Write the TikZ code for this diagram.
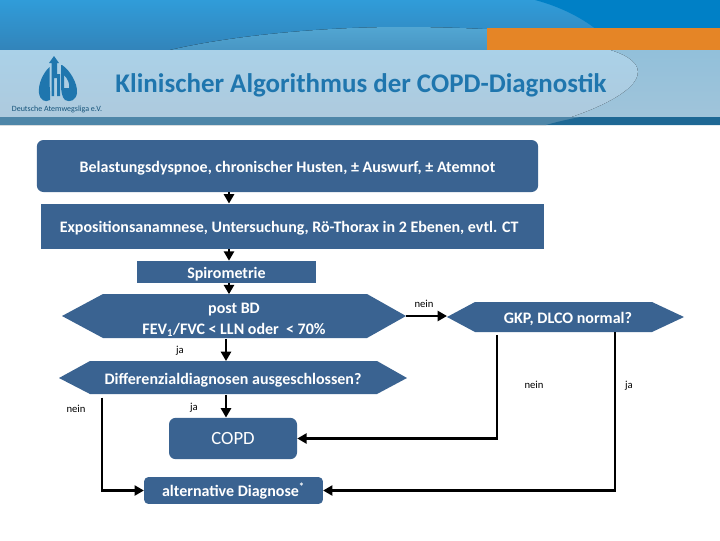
\documentclass[tikz,border=0pt]{standalone}
\usepackage{fontspec}
\setmainfont{Carlito}
\usetikzlibrary{arrows.meta,calc}
\definecolor{boxblue}{HTML}{3A6391}
\definecolor{titleblue}{HTML}{1F76AE}
\definecolor{ligaorange}{HTML}{E58526}
\definecolor{skytop}{RGB}{48,156,217}
\definecolor{skybottom}{RGB}{50,132,186}
\definecolor{swooshtop}{RGB}{82,166,210}
\definecolor{swooshbottom}{RGB}{72,150,196}
\definecolor{corner}{RGB}{0,128,198}
\definecolor{bandright}{RGB}{146,192,218}
\definecolor{bandrightlow}{RGB}{160,196,218}
\definecolor{bandleft}{RGB}{170,209,232}
\definecolor{bandleftlow}{RGB}{174,201,220}
\definecolor{stripleft}{RGB}{78,134,168}
\definecolor{stripright}{RGB}{30,104,148}
\tikzstyle{flow} = [line width=2.2pt,-{Stealth[inset=0pt,length=7pt,width=7.5pt]}]
\tikzset{
    panel/.style={fill=boxblue,text=white,inner sep=0pt,text height=9pt,text depth=0pt,font=\fontsize{12}{14}\selectfont\bfseries},
    hexlabel/.style={text=white,inner sep=0pt,font=\fontsize{12}{15.75}\selectfont\bfseries,align=center},
    hexline/.style={hexlabel,text height=9pt,text depth=0pt},
    note/.style={font=\fontsize{8}{9}\selectfont}
}
\begin{document}
\begin{tikzpicture}[x=0.75pt,y=-0.75pt]

    \useasboundingbox (0,0) rectangle (720,540);
    \fill[white] (0,0) rectangle (720,540);

    % Kopfband
    \fill[top color=skytop,bottom color=skybottom] (0,0) rectangle (720,50);
    \fill[top color=swooshtop,bottom color=swooshbottom] (170,50) .. controls (230,36) and (320,27) .. (400,27) .. controls (490,27) and (570,33) .. (620,50) -- cycle;
    \fill[corner] (535,0) .. controls (565,8) and (590,22) .. (606,38) -- (720,38) -- (720,0) -- cycle;
    \fill[ligaorange] (487,28) rectangle (720,50);
    \fill[top color=bandright,bottom color=bandrightlow] (0,50) rectangle (720,117);
    \fill[top color=bandleft,bottom color=bandleftlow] (0,50) -- (610,50) .. controls (650,62) and (650,85) .. (590,110) .. controls (575,116) and (560,121) .. (546,125) -- (0,125) -- cycle;
    \fill[stripleft] (0,117) rectangle (720,125);
    \fill[stripright] (546,125) .. controls (560,121) and (570,119) .. (580,117) -- (720,117) -- (720,125) -- cycle;

    % Logo
    \fill[titleblue] (54,56) -- (59,63) -- (57,63) -- (57,74) -- (60,74) -- (60,96) -- (57,96) -- (57,78) -- (54,78) -- (54,96) -- (51.5,96) -- (51.5,63) -- (49,63) -- cycle;
    \fill[titleblue] (49.5,67) .. controls (43,73) and (38,84) .. (39,93) .. controls (40,100) and (45,103) .. (50,100)
        .. controls (50.5,97) and (50,90) .. (49.5,84) -- cycle;
    \fill[titleblue,even odd rule] (62,65) .. controls (70,70) and (78,84) .. (77,93) .. controls (76,100) and (70,103) .. (65,100)
        .. controls (62,97) and (61,92) .. (61,84) -- (61,65) -- cycle
        (64,75) .. controls (68,79) and (70,84) .. (69,88) -- (64,88) -- cycle;
    \node[text=titleblue!70!black,font=\fontsize{6}{7}\selectfont] (liga) at (57,109) {Deutsche Atemwegsliga e.V.};

    % Titel
    \node[text=titleblue,font=\fontsize{20.2}{24}\selectfont\bfseries] (titel) at (361,85.5) {Klinischer Algorithmus der COPD-Diagnostik};

    % Kästen
    \node[panel,rounded corners=5pt,minimum width=376pt,minimum height=39pt] (beschwerden) at (287.5,166) {Belastungsdyspnoe, chronischer Husten, ± Auswurf, ± Atemnot};
    \node[panel,minimum width=377pt,minimum height=34pt] (anamnese) at (292.5,226.5) {Expositionsanamnese, Untersuchung, Rö-Thorax in 2 Ebenen, evtl. CT\hspace*{5pt}};
    \node[panel,minimum width=134pt,minimum height=16.5pt] (spiro) at (226.5,272) {Spirometrie};
    \node[panel,rounded corners=5pt,minimum width=96pt,minimum height=31pt,font=\fontsize{14}{16}\selectfont] (copd) at (233,438.5) {COPD};
    \node[panel,rounded corners=3pt,minimum width=134pt,minimum height=20pt] (alternativ) at (233.5,490.5) {alternative Diagnose\textsuperscript{*}};

    % Sechsecke
    \fill[boxblue] (62,316) -- (103,294) -- (367,294) -- (406,316) -- (367,338) -- (103,338) -- cycle;
    \fill[boxblue] (59,378) -- (90,361) -- (377,361) -- (407,378) -- (377,394) -- (90,394) -- cycle;
    \fill[boxblue] (447,317) -- (475,302) -- (652,302) -- (684,317) -- (652,332) -- (475,332) -- cycle;
    \coordinate (posttip) at (406,316);
    \coordinate (gkptip) at (447,316);
    \node[hexlabel,minimum width=196pt,minimum height=33pt] (post) at (234,316.5) {\rule{0pt}{13pt}post BD\\FEV\textsubscript{1}/FVC < LLN oder \ < 70\%};
    \node[hexline,minimum width=215pt,minimum height=25pt] (differenzial) at (233,378) {Differenzialdiagnosen ausgeschlossen?};
    \node[hexline,minimum width=133pt,minimum height=22.5pt] (gkp) at (568,317) {GKP, DLCO normal?};

    % Stamm
    \coordinate (stamm) at (229,0);
    \coordinate (stammb) at (226,0);
    \draw[flow] (beschwerden.south -| stamm) -- (anamnese.north -| stamm);
    \draw[flow] (anamnese.south -| stamm) -- (spiro.north -| stamm);
    \draw[flow] (spiro.south -| stamm) -- (post.north -| stamm);
    \draw[flow] (post.south -| stammb) -- (differenzial.north -| stammb);
    \draw[flow] (differenzial.south -| stammb) -- (copd.north -| stammb);
    \draw[flow] (posttip) -- (gkptip);

    % Rückführungen
    \coordinate (neinx) at (497,0);
    \coordinate (jax) at (615,0);
    \coordinate (linksx) at (102,0);
    \draw[flow,shorten <=2pt] (gkp.south -| neinx) |- (copd.east);
    \draw[flow] (gkp.south -| jax) |- (alternativ.east);
    \draw[flow,shorten <=2pt] (differenzial.south -| linksx) |- (alternativ.west);

    % Beschriftung
    \node[note] (n1) at (424,304) {nein};
    \node[note] (j1) at (180,351) {ja};
    \node[note] (j2) at (194,408) {ja};
    \node[note] (n2) at (76,409) {nein};
    \node[note] (n3) at (534,385) {nein};
    \node[note] (j3) at (629,386) {ja};

\end{tikzpicture}
\end{document}
